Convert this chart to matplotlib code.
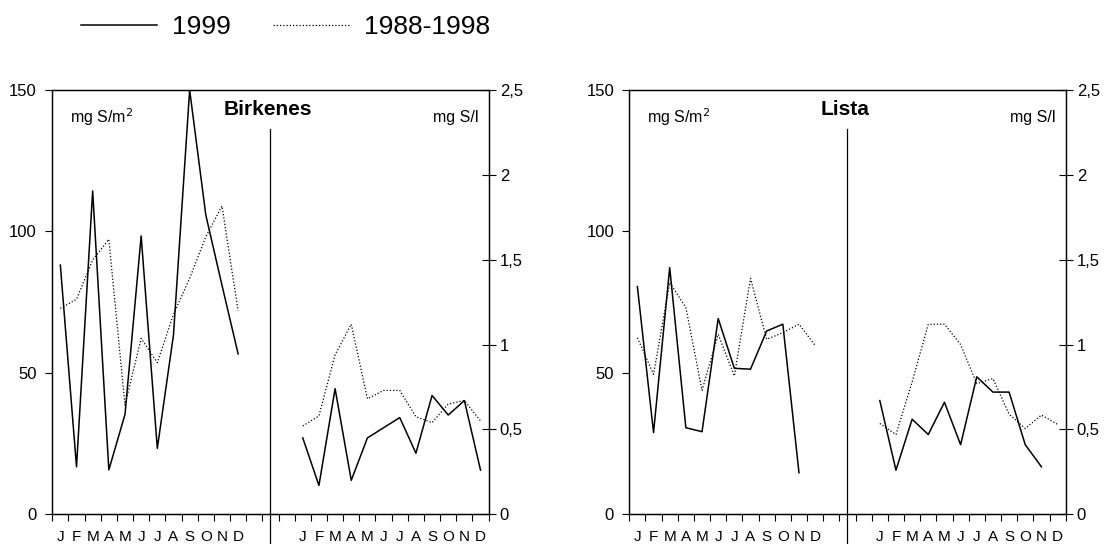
import numpy as np
import matplotlib
matplotlib.use("Agg")
import matplotlib.pyplot as plt

plt.rcParams["font.family"] = ["Liberation Sans", "DejaVu Sans"]

months = ["J", "F", "M", "A", "M", "J", "J", "A", "S", "O", "N", "D"]

# Birkenes: deposition (mg S/m2, left axis) and concentration (mg S/l, right axis)
birk_dep_1999 = [88.1, 16.8, 114.3, 15.7, 35.3, 98.4, 23.3, 63.4, 150.0, 105.8, 81.0, 56.7]
birk_dep_8898 = [72.8, 76.0, 89.9, 97.2, 38.6, 62.2, 53.6, 70.7, 83.4, 98.1, 109.0, 71.9]
birk_conc_1999 = [0.45, 0.17, 0.74, 0.20, 0.45, 0.51, 0.57, 0.36, 0.70, 0.585, 0.67, 0.26]
birk_conc_8898 = [0.52, 0.58, 0.94, 1.12, 0.68, 0.73, 0.73, 0.575, 0.54, 0.65, 0.67, 0.55]

# Lista (no December value in 1999)
lista_dep_1999 = [80.5, 28.9, 87.2, 30.6, 29.2, 69.2, 51.6, 51.3, 64.8, 67.2, 14.7, np.nan]
lista_dep_8898 = [62.4, 49.5, 81.9, 73.1, 43.8, 63.6, 48.9, 83.4, 61.9, 64.2, 67.2, 59.7]
lista_conc_1999 = [0.67, 0.26, 0.56, 0.47, 0.66, 0.41, 0.81, 0.72, 0.72, 0.41, 0.28, np.nan]
lista_conc_8898 = [0.535, 0.47, 0.78, 1.12, 1.12, 1.0, 0.77, 0.80, 0.59, 0.505, 0.585, 0.53]

conc_ticks = [0, 0.5, 1, 1.5, 2, 2.5]
conc_labels = ["0", "0,5", "1", "1,5", "2", "2,5"]

fig = plt.figure(figsize=(11.05, 5.44), dpi=100)

x_dep = np.arange(12) + 0.5
x_conc = np.arange(15, 27) + 0.5
dotted = (0, (1, 1.6))


def panel(left, name, dep99, dep88, conc99, conc88):
    ax = fig.add_axes([left, 0.0546, 0.3949, 0.780])
    ax2 = ax.twinx()

    ax.plot(x_dep, dep99, color="black", lw=1.1)
    ax.plot(x_dep, dep88, color="black", lw=0.9, ls=dotted)
    ax2.plot(x_conc, conc99, color="black", lw=1.1)
    ax2.plot(x_conc, conc88, color="black", lw=0.9, ls=dotted)

    ax.set_xlim(0, 27)
    ax.set_ylim(0, 150)
    ax2.set_ylim(0, 2.5)

    ax.set_yticks([0, 50, 100, 150])
    ax.tick_params(axis="y", direction="out", length=5, width=0.8, labelsize=12, pad=6)
    ax2.set_yticks(conc_ticks)
    ax2.set_yticklabels(conc_labels)
    ax2.tick_params(axis="y", direction="inout", length=10, width=0.8, labelsize=12, pad=3)

    ax.set_xticks(np.arange(28))
    ax.set_xticklabels([])
    ax.tick_params(axis="x", which="major", direction="out", length=5, width=0.8)
    ax.set_xticks(np.concatenate([x_dep, x_conc]), minor=True)
    ax.set_xticklabels(months + months, minor=True, fontsize=11)
    ax.tick_params(axis="x", which="minor", length=0, pad=11)

    for a in (ax, ax2):
        for s in a.spines.values():
            s.set_linewidth(0.9)

    # divider between deposition and concentration parts
    ax.axvline(13.5, ymin=-0.075, ymax=0.907, color="black", lw=0.9, clip_on=False)

    ax.text(0.04, 0.935, "mg S/m$^2$", transform=ax.transAxes, fontsize=11.5, va="center")
    ax.text(0.976, 0.935, "mg S/l", transform=ax.transAxes, fontsize=11.5, va="center", ha="right")
    ax.text(0.494, 0.955, name, transform=ax.transAxes, fontsize=15, fontweight="bold",
            ha="center", va="center")
    return ax


ax = panel(0.0473, "Birkenes", birk_dep_1999, birk_dep_8898, birk_conc_1999, birk_conc_8898)
panel(0.5695, "Lista", lista_dep_1999, lista_dep_8898, lista_conc_1999, lista_conc_8898)

h1, = ax.plot([], [], color="black", lw=1.1)
h2, = ax.plot([], [], color="black", lw=0.9, ls=dotted)
fig.legend([h1, h2], ["1999", "1988-1998"], loc="center left", bbox_to_anchor=(0.073, 0.95),
           ncol=2, frameon=False, fontsize=19, handlelength=2.9, handletextpad=0.55,
           columnspacing=1.6, borderpad=0, borderaxespad=0)

fig.savefig("out.png", dpi=100)
